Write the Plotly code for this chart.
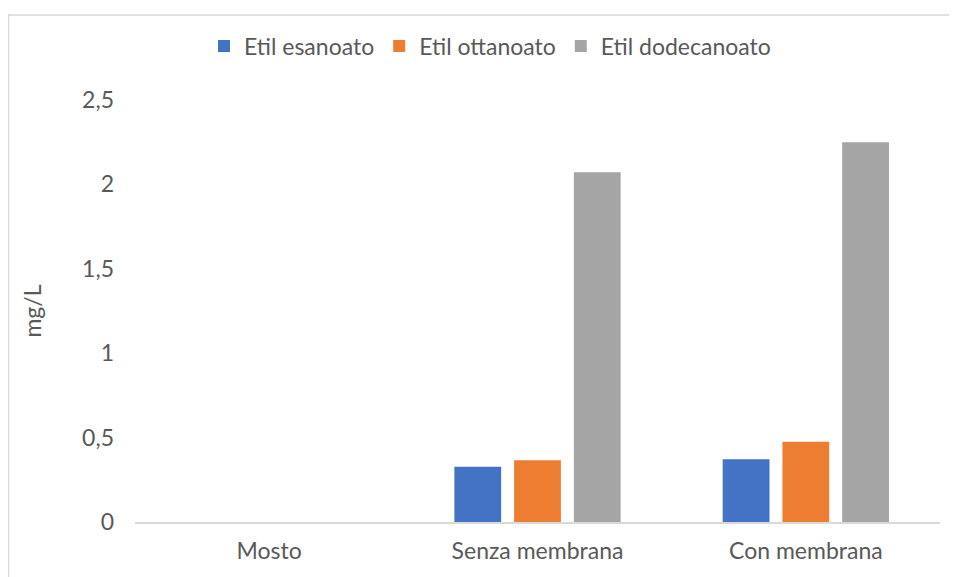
import plotly.graph_objects as go

categories = ["Mosto", "Senza membrana", "Con membrana"]
series_names = ["Etil esanoato", "Etil ottanoato", "Etil dodecanoato"]
etil_esanoato = [0, 0.327, 0.372]
etil_ottanoato = [0, 0.366, 0.475]
etil_dodecanoato = [0, 2.072, 2.25]
colors = ["#4472C4", "#ED7D31", "#A5A5A5"]
y_ticks = [0, 0.5, 1, 1.5, 2, 2.5]

FONT = "Lato, 'Open Sans', sans-serif"
TXT = "#595959"
FS = 23

fig = go.Figure()
for name, vals, col in zip(series_names, [etil_esanoato, etil_ottanoato, etil_dodecanoato], colors):
    fig.add_trace(go.Bar(x=categories, y=vals, name=name, marker=dict(color=col, line=dict(width=0))))

# page body has an 8px offset; plot area targets screen x 135..940, y 100..522
OFF = 8
W, H = 957, 577
L, T = 135 - OFF, 100 - OFF
R = W - (940 - OFF)
B = H - (522 - OFF)
pw = W - L - R
ph = H - T - B

fig.update_layout(
    width=W, height=H,
    margin=dict(l=L, r=R, t=T, b=B, autoexpand=False),
    paper_bgcolor="white", plot_bgcolor="white",
    separators=", ",
    barmode="group", bargap=0.332, bargroupgap=0.217,
    font=dict(family=FONT, color=TXT, size=FS),
    legend=dict(orientation="h", x=(490 - OFF - L) / pw, xanchor="center",
                y=(H - B - (46 - OFF)) / ph, yanchor="middle",
                font=dict(size=FS, color=TXT), traceorder="normal",
                itemwidth=30),
    xaxis=dict(showgrid=False, showline=True, linecolor="#d9d9d9", linewidth=1.5,
               ticks="", tickfont=dict(size=FS, color=TXT), ticklabelstandoff=8,
               automargin=False),
    yaxis=dict(range=[0, 2.5], tickvals=y_ticks, showgrid=False, zeroline=False,
               showline=False, ticks="", tickfont=dict(size=FS, color=TXT),
               ticklabelstandoff=20, automargin=False,
               title=dict(text="mg/L", font=dict(size=FS, color=TXT), standoff=34)),
    shapes=[dict(type="rect", xref="paper", yref="paper",
                 x0=(0.5 - L) / pw, x1=(W + 5 - L) / pw,
                 y0=-(B + 10) / ph, y1=(H - B - 7) / ph,
                 line=dict(color="#d9d9d9", width=1.5), fillcolor="rgba(0,0,0,0)", layer="below")],
)

fig.write_html("out.html")
